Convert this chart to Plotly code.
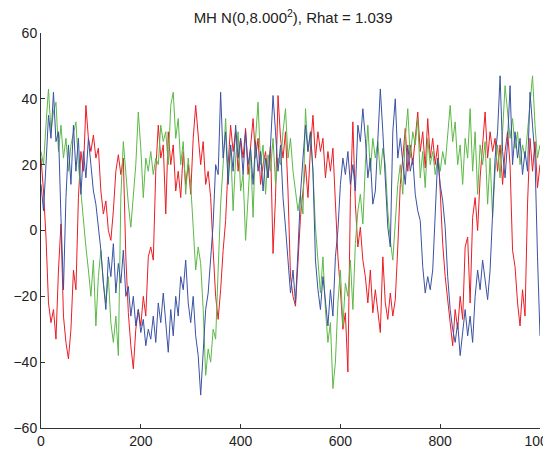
import plotly.graph_objects as go

steps = list(range(0, 1001, 5))

# chain 1 (red)
red_chain = [22, 12, -2, -22, -28, -24, -33, -12, 2, -26,
             -34, -39, -30, -12, -18, 10, 24, 18, 38, 28,
             24, 29, 22, 25, 12, 5, 9, 0, -3, 6,
             18, 23, 17, 22, -8, -25, -35, -42, -30, -24,
             -29, -20, -26, -8, -5, -9, 18, 32, 22, 26,
             5, 30, 20, 26, 12, 18, 10, 24, 14, 20,
             11, 28, 38, 30, 20, 27, 14, 18, 10, -6,
             -20, -27, -18, -6, 3, 20, 32, 24, 30, 18,
             28, 22, 31, 17, 26, 34, 22, 28, 14, 20,
             24, 16, 26, -7, 10, 41, 28, 22, 30, 12,
             -14, -20, -23, -10, 4, 12, 20, 10, 25, 35,
             22, 30, 24, 28, 16, 24, 18, 25, 10, -8,
             -18, -30, -25, -43, 10, 33, 8, -5, 1, -9,
             -14, -22, -12, -25, -18, -24, -31, -8, -22, -27,
             -19, -26, -21, -5, 14, 22, 31, 18, 26, 20,
             29, 36, 24, 30, 19, 34, 22, 28, 20, 26,
             12, -4, -14, -22, -28, -35, -24, -30, -20, -27,
             -5, -2, -22, 4, 10, 0, 16, 26, 36, 22,
             30, 24, 28, 18, 26, 14, 24, 30, 20, -6,
             -11, -22, -29, -18, -26, 8, 28, 18, 27, 13,
             20]

# chain 2 (green)
green_chain = [24, 20, 32, 43, 30, 36, 39, 24, 32, 22,
               28, 18, 26, 30, 33, 20, 11, 2, -5, -12,
               -20, -9, -29, -14, -6, -16, -22, -14, -28, -34,
               -26, -38, 10, 27, 17, 8, 1, 12, 20, 36,
               25, 10, 22, 18, 24, 17, 22, 20, 32, 27,
               30, 20, 38, 42, 28, 34, 20, 27, 11, 22,
               14, 1, -12, -5, -10, -24, -44, -36, -40, -30,
               -33, -12, 8, 20, 34, 16, 26, 6, 22, 30,
               12, 17, -3, 10, 24, 4, 28, 39, 20, 26,
               11, 23, 18, 28, 14, 22, 20, 30, 37, 22,
               28, 18, 12, 6, 11, 5, 37, 24, 30, 18,
               1, -10, -19, -8, -24, -34, -28, -48, -40, -22,
               -12, -29, -16, -20, -9, -24, -4, 6, 11, 2,
               20, 32, 18, 28, 22, 27, 17, 25, 20, 6,
               -3, -9, 2, 14, 20, 11, 28, 37, 22, 30,
               26, 34, 16, 24, 13, 28, 20, 24, 17, 22,
               18, 24, 20, 30, 38, 27, 33, 20, 26, 14,
               28, 22, 37, 18, 30, 11, 26, 20, 27, 8,
               22, 4, 18, 26, 16, 30, 44, 36, 28, 34,
               25, 30, 20, 26, 22, 30, 38, 47, 32, 22,
               26]

# chain 3 (blue)
blue_chain = [14, 6, 20, 35, 28, 42, 27, 30, 4, -18,
              10, 26, 14, 32, 18, 28, 11, 24, 16, 28,
              20, 12, 8, 1, -6, -16, -24, -8, -14, -4,
              -19, -10, -16, -6, -20, -17, -26, -20, -29, -24,
              -31, -27, -35, -30, -33, -26, -34, -22, -28, -19,
              -27, -37, -24, -32, -20, -26, -14, -18, -9, -22,
              -28, -20, -32, -38, -50, -36, -24, -19, -8, 2,
              20, 17, 42, 22, 30, 14, 26, 18, 32, 22,
              28, 17, 30, 20, 25, 14, 27, 18, 24, 12,
              22, 16, 26, 41, 30, 18, 26, 10, 1, -10,
              -19, -12, -22, -6, 11, 22, 32, 24, 30, 18,
              -9, -18, -24, -14, -22, -29, -18, -26, -8, 0,
              14, 22, 17, 24, 14, 20, 12, 32, 27, 37,
              28, 16, 22, 8, 12, 26, 43, 30, 14, 1,
              -5, 30, 40, 22, 28, 20, 14, 26, 18, 22,
              11, 6, 3, -11, -19, -14, -18, -12, 5, 22,
              14, 9, 1, -14, -24, -30, -34, -28, -38, -30,
              -24, -32, -26, -34, -20, -12, -18, -9, -16, -21,
              -12, 5, 22, 30, 47, 24, 16, 27, 44, 20,
              30, 22, 28, 17, 24, 18, 42, 32, 22, -8,
              -32]

chains = [
    (red_chain, '#ec1c24'),
    (green_chain, '#5cb947'),
    (blue_chain, '#3a52a3'),
]

fig = go.Figure()
for vals, col in chains:
    fig.add_trace(go.Scatter(x=steps, y=vals, mode='lines',
                             line=dict(color=col, width=1)))

axis_style = dict(
    showline=True, linecolor='#333333', linewidth=1,
    ticks='inside', ticklen=4, tickcolor='#333333',
    showgrid=False, zeroline=False, automargin=False,
    tickfont=dict(family='Liberation Sans, Arial', size=14, color='#222222'),
)

# the page sits 8px in from the window edge, so size the figure to fit
fig.update_layout(
    width=543, height=445,
    margin=dict(l=33, r=11, t=25, b=25),
    paper_bgcolor='white', plot_bgcolor='white',
    showlegend=False,
    title=dict(text='MH N(0,8.000<sup>2</sup>), Rhat = 1.039',
               x=0.525, xanchor='center', y=0.99, yanchor='top',
               font=dict(family='Liberation Sans, Arial', size=15, color='#222222')),
    xaxis=dict(range=[0, 1000], dtick=200, ticklabeloverflow='allow', **axis_style),
    yaxis=dict(range=[-60, 60], dtick=20, **axis_style),
)

fig.write_html("out.html")
